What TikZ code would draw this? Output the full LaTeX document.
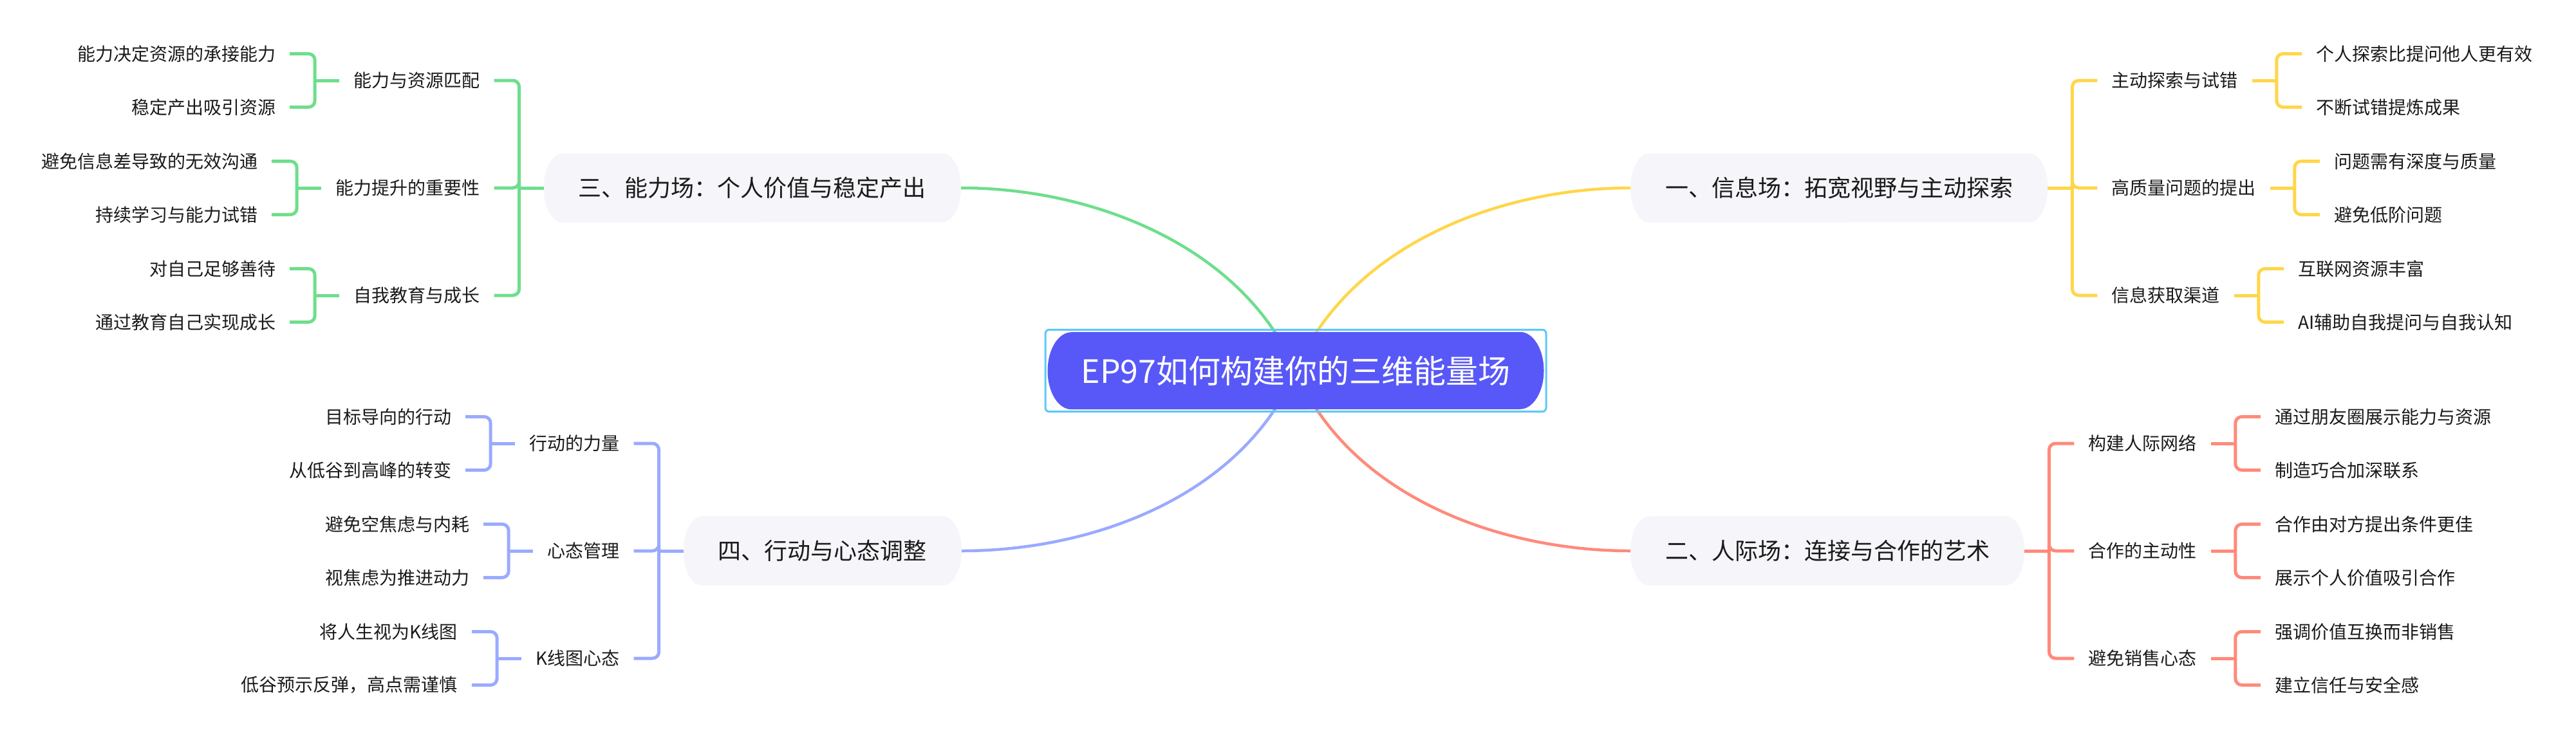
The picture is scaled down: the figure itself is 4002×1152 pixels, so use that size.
\documentclass[tikz,border=0pt]{standalone}
\usepackage{fontspec}
\setmainfont{Noto Sans CJK SC}
\usetikzlibrary{backgrounds,fit}
\definecolor{grn}{RGB}{110,222,140}
\definecolor{yel}{RGB}{255,214,74}
\definecolor{sal}{RGB}{255,138,122}
\definecolor{blu}{RGB}{154,170,255}
\definecolor{rootfill}{RGB}{88,88,248}
\definecolor{rootline}{RGB}{92,200,250}
\definecolor{pillbg}{RGB}{245,245,250}
\definecolor{ink}{RGB}{26,26,26}
\begin{document}
\begin{tikzpicture}[x=1pt,y=-1pt,
    root/.style={text=white,inner xsep=52pt,minimum height=120pt,
        font=\fontsize{50}{58}\selectfont},
    pill/.style={text=ink,inner xsep=54pt,minimum height=107pt,
        font=\fontsize{36}{44}\selectfont},
    sub/.style={text=ink,inner xsep=22pt,font=\fontsize{28}{34}\selectfont},
    branch/.style={draw=#1,line width=4.5pt},
    twig/.style={draw=#1,line width=5pt}]
    \useasboundingbox (0,0) rectangle (4002,1152);
    \node[root] (root) at (2013,576) {EP97如何构建你的三维能量场};
    \node[draw=rootline,line width=3pt,rounded corners=6pt,inner sep=3.5pt,
        fit=(root)] (rootbox) {};
    \path
    (2533,292) node[pill,anchor=west] (info) {一、信息场：拓宽视野与主动探索} % <<< branch 1
    (2533,856) node[pill,anchor=west] (ppl) {二、人际场：连接与合作的艺术} % <<< branch 2
    (1493,292) node[pill,anchor=east] (abil) {三、能力场：个人价值与稳定产出} % <<< branch 3
    (1494,856) node[pill,anchor=east] (act) {四、行动与心态调整}; % <<< branch 4
    % level 2
    \path (info.east) ++(77,-167) node[sub,anchor=west] (i1) {主动探索与试错}
    ++(0,167) node[sub,anchor=west] (i2) {高质量问题的提出}
    ++(0,167) node[sub,anchor=west] (i3) {信息获取渠道};
    \path (ppl.east) ++(77,-167) node[sub,anchor=west] (p1) {构建人际网络}
    ++(0,167) node[sub,anchor=west] (p2) {合作的主动性}
    ++(0,167) node[sub,anchor=west] (p3) {避免销售心态};
    \path (abil.west) ++(-77,-167) node[sub,anchor=east] (a1) {能力与资源匹配}
    ++(0,167) node[sub,anchor=east] (a2) {能力提升的重要性}
    ++(0,167) node[sub,anchor=east] (a3) {自我教育与成长};
    \path (act.west) ++(-77,-167) node[sub,anchor=east] (t1) {行动的力量}
    ++(0,167) node[sub,anchor=east] (t2) {心态管理}
    ++(0,167) node[sub,anchor=east] (t3) {K线图心态};
    % level 3
    \path (i1.east) ++(77,-41.5) node[sub,anchor=west] (i11) {个人探索比提问他人更有效}
    ++(0,83) node[sub,anchor=west] (i12) {不断试错提炼成果};
    \path (i2.east) ++(77,-41.5) node[sub,anchor=west] (i21) {问题需有深度与质量}
    ++(0,83) node[sub,anchor=west] (i22) {避免低阶问题};
    \path (i3.east) ++(77,-41.5) node[sub,anchor=west] (i31) {互联网资源丰富}
    ++(0,83) node[sub,anchor=west] (i32) {AI辅助自我提问与自我认知};
    \path (p1.east) ++(77,-41.5) node[sub,anchor=west] (p11) {通过朋友圈展示能力与资源}
    ++(0,83) node[sub,anchor=west] (p12) {制造巧合加深联系};
    \path (p2.east) ++(77,-41.5) node[sub,anchor=west] (p21) {合作由对方提出条件更佳}
    ++(0,83) node[sub,anchor=west] (p22) {展示个人价值吸引合作};
    \path (p3.east) ++(77,-41.5) node[sub,anchor=west] (p31) {强调价值互换而非销售}
    ++(0,83) node[sub,anchor=west] (p32) {建立信任与安全感};
    \path (a1.west) ++(-77,-41.5) node[sub,anchor=east] (a11) {能力决定资源的承接能力}
    ++(0,83) node[sub,anchor=east] (a12) {稳定产出吸引资源};
    \path (a2.west) ++(-77,-41.5) node[sub,anchor=east] (a21) {避免信息差导致的无效沟通}
    ++(0,83) node[sub,anchor=east] (a22) {持续学习与能力试错};
    \path (a3.west) ++(-77,-41.5) node[sub,anchor=east] (a31) {对自己足够善待}
    ++(0,83) node[sub,anchor=east] (a32) {通过教育自己实现成长};
    \path (t1.west) ++(-77,-41.5) node[sub,anchor=east] (t11) {目标导向的行动}
    ++(0,83) node[sub,anchor=east] (t12) {从低谷到高峰的转变};
    \path (t2.west) ++(-77,-41.5) node[sub,anchor=east] (t21) {避免空焦虑与内耗}
    ++(0,83) node[sub,anchor=east] (t22) {视焦虑为推进动力};
    \path (t3.west) ++(-77,-41.5) node[sub,anchor=east] (t31) {将人生视为K线图}
    ++(0,83) node[sub,anchor=east] (t32) {低谷预示反弹，高点需谨慎};
    % brackets
    \foreach \p/\c in {info/i1,info/i2,info/i3,i1/i11,i1/i12,i2/i21,i2/i22,i3/i31,i3/i32}{
        \draw[twig=yel] (\p.east) -- ++(38,0);
        \draw[twig=yel,rounded corners=10pt] ([xshift=38pt]\p.east) |- (\c.west);}
    \foreach \p/\c in {ppl/p1,ppl/p2,ppl/p3,p1/p11,p1/p12,p2/p21,p2/p22,p3/p31,p3/p32}{
        \draw[twig=sal] (\p.east) -- ++(38,0);
        \draw[twig=sal,rounded corners=10pt] ([xshift=38pt]\p.east) |- (\c.west);}
    \foreach \p/\c in {abil/a1,abil/a2,abil/a3,a1/a11,a1/a12,a2/a21,a2/a22,a3/a31,a3/a32}{
        \draw[twig=grn] (\p.west) -- ++(-38,0);
        \draw[twig=grn,rounded corners=10pt] ([xshift=-38pt]\p.west) |- (\c.east);}
    \foreach \p/\c in {act/t1,act/t2,act/t3,t1/t11,t1/t12,t2/t21,t2/t22,t3/t31,t3/t32}{
        \draw[twig=blu] (\p.west) -- ++(-38,0);
        \draw[twig=blu,rounded corners=10pt] ([xshift=-38pt]\p.west) |- (\c.east);}
    \begin{scope}[on background layer]
        \draw[branch=grn] (root.center) .. controls +(-83,-194) and +(205,0) .. (abil.east);
        \draw[branch=yel] (root.center) .. controls +(83,-194) and +(-205,0) .. (info.west);
        \draw[branch=blu] (root.center) .. controls +(-83,194) and +(205,0) .. (act.east);
        \draw[branch=sal] (root.center) .. controls +(83,194) and +(-205,0) .. (ppl.west);
        \foreach \n/\r/\h/\k in {info/29/53.5/pillbg,ppl/29/53.5/pillbg,abil/29/53.5/pillbg,
            act/29/53.5/pillbg,root/37/60/rootfill}
        \fill[\k] ([xshift=\r pt]\n.north west) -- ([xshift=-\r pt]\n.north east)
            arc[start angle=90,end angle=-90,x radius=\r pt,y radius=\h pt]
            -- ([xshift=\r pt]\n.south west)
            arc[start angle=270,end angle=90,x radius=\r pt,y radius=\h pt] -- cycle;
    \end{scope}
\end{tikzpicture}
\end{document}
